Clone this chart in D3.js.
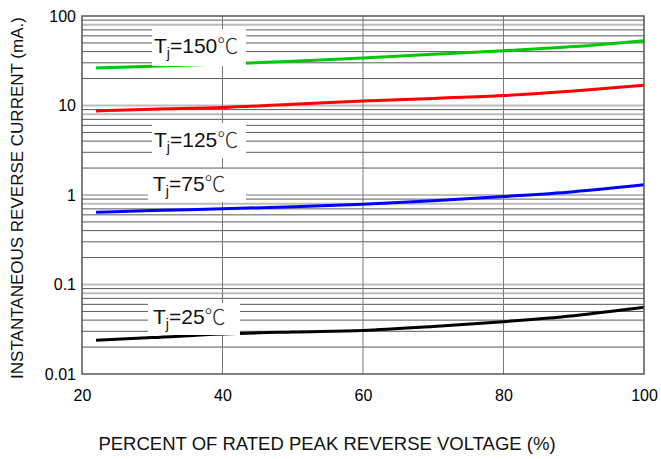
<!DOCTYPE html>
<html><head><meta charset="utf-8">
<script src="https://cdn.jsdelivr.net/npm/d3@7"></script>
<style>
html,body{margin:0;padding:0;background:#fff;}
svg{display:block;font-family:"Liberation Sans",Arial,sans-serif;}
</style></head>
<body><svg id="chart" width="661" height="459"></svg>
<script>
// Data
const voltagePct = [22, 30, 40, 50, 60, 70, 80, 90, 100];
const tj150 = [26.2, 27.5, 29.0, 31.2, 34.0, 37.3, 41.0, 45.5, 53.0];
const tj125 = [8.7, 9.1, 9.5, 10.3, 11.2, 12.0, 12.9, 14.5, 16.8];
const tj75  = [0.64, 0.67, 0.70, 0.74, 0.79, 0.86, 0.96, 1.09, 1.30];
const tj25  = [0.0238, 0.0255, 0.028, 0.0295, 0.0307, 0.034, 0.0384, 0.0448, 0.0556];
const xTicks = [20, 40, 60, 80, 100];
const yTicks = [0.01, 0.1, 1, 10, 100];
const yTickLabels = ["0.01", "0.1", "1", "10", "100"];
const seriesNames = ["150", "125", "75", "25"];
const seriesColors = ["#00c800", "#ff0000", "#0000ff", "#000000"];

const svg = d3.select("#chart");
const m = {left: 82, right: 17, top: 16, bottom: 85};
const W = 661, H = 459;
const x = d3.scaleLinear().domain([20, 100]).range([m.left, W - m.right]);
const y = d3.scaleLog().domain([0.01, 100]).range([H - m.bottom, m.top]);

// horizontal grid (log minor lines)
const gridVals = [];
for (let e = -2; e < 2; e++) for (let k = 1; k <= 9; k++) {
  const v = k * Math.pow(10, e);
  if (v > 0.01 * 1.0001 && v < 100 * 0.9999) gridVals.push({v, k});
}
const light = new Set([1, 8]);
const g = svg.append("g");
g.selectAll("line.h").data(gridVals).enter().append("line")
  .attr("x1", x(20)).attr("x2", x(100))
  .attr("y1", d => y(d.v)).attr("y2", d => y(d.v))
  .attr("stroke", d => light.has(d.k) ? "#bdbdbd" : "#5a5a5a")
  .attr("stroke-width", d => light.has(d.k) ? 2 : 1);
// vertical grid
g.selectAll("line.v").data([40, 60, 80]).enter().append("line")
  .attr("x1", d => x(d)).attr("x2", d => x(d))
  .attr("y1", y(100)).attr("y2", y(0.01))
  .attr("stroke", "#7a7a7a").attr("stroke-width", 1);

// curves
const allSeries = [tj150, tj125, tj75, tj25];
const line = d3.line().x((d, i) => x(voltagePct[i])).y(d => y(d)).curve(d3.curveMonotoneX);
allSeries.forEach((s, i) => {
  svg.append("path").attr("d", line(s)).attr("fill", "none")
    .attr("stroke", seriesColors[i]).attr("stroke-width", 3);
});

// label boxes
const labels = [
  {name: seriesNames[0], bx: 152, by: 29, bw: 94, bh: 37, tx: 154, ty: 53},
  {name: seriesNames[1], bx: 152, by: 123, bw: 94, bh: 35, tx: 154, ty: 147},
  {name: seriesNames[2], bx: 148, by: 169, bw: 98, bh: 33, tx: 153, ty: 191},
  {name: seriesNames[3], bx: 148, by: 303, bw: 92, bh: 32, tx: 153, ty: 324}
];
labels.forEach(l => {
  svg.append("rect").attr("x", l.bx).attr("y", l.by).attr("width", l.bw).attr("height", l.bh).attr("fill", "#fff");
  const t = svg.append("text").attr("x", l.tx).attr("y", l.ty).attr("font-size", 21).attr("fill", "#111");
  t.append("tspan").text("T");
  t.append("tspan").attr("font-size", 14).attr("dy", 5).text("j");
  t.append("tspan").attr("dy", -5).text("=" + l.name);
  t.append("tspan").attr("font-family", "'Noto Sans CJK SC',sans-serif").attr("font-weight", 300).attr("fill", "#333").text("℃");
});

// frame
svg.append("rect").attr("x", x(20)).attr("y", y(100)).attr("width", x(100) - x(20)).attr("height", y(0.01) - y(100))
  .attr("fill", "none").attr("stroke", "#555").attr("stroke-width", 1.5);

// axes
const xa = svg.append("g").attr("transform", `translate(0,${y(0.01)})`)
  .call(d3.axisBottom(x).tickValues(xTicks).tickSize(0).tickPadding(16).tickFormat(d3.format("d")));
xa.select(".domain").remove();
xa.selectAll("text").attr("font-size", 16).attr("fill", "#000").attr("font-family", "'Liberation Sans',Arial,sans-serif");
const ya = svg.append("g").attr("transform", `translate(${x(20)},0)`)
  .call(d3.axisLeft(y).tickValues(yTicks).tickSize(0).tickPadding(6).tickFormat((d, i) => yTickLabels[i]));
ya.select(".domain").remove();
ya.selectAll("text").attr("font-size", 16).attr("fill", "#000").attr("font-family", "'Liberation Sans',Arial,sans-serif");

// titles
svg.append("text").attr("x", 327).attr("y", 450).attr("text-anchor", "middle").attr("font-size", 18.5).attr("fill", "#111")
  .text("PERCENT OF RATED PEAK REVERSE VOLTAGE (%)");
svg.append("text").attr("transform", "translate(23,198) rotate(-90)").attr("text-anchor", "middle").attr("font-size", 17).attr("fill", "#111")
  .text("INSTANTANEOUS REVERSE CURRENT (mA.)");
</script></body></html>
